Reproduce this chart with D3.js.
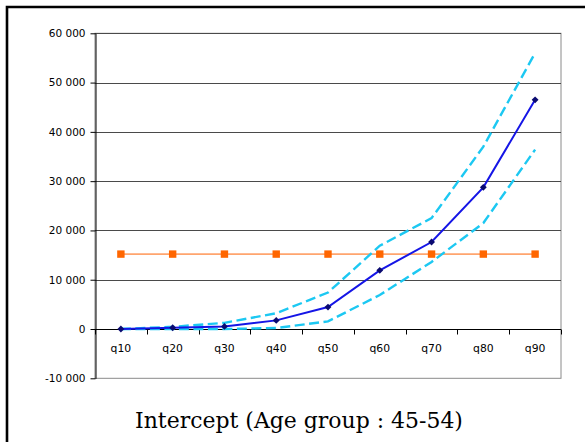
<!DOCTYPE html>
<html>
<head>
<meta charset="utf-8">
<script src="https://cdn.jsdelivr.net/npm/d3@7"></script>
<style>
  html, body { margin: 0; padding: 0; background: #fff; }
  svg { display: block; }
</style>
</head>
<body>
<svg id="chart" width="585" height="442"></svg>
<script>
// Quantile categories and the estimated intercept per quantile, with its band
const categories = ["q10", "q20", "q30", "q40", "q50", "q60", "q70", "q80", "q90"];
const estimate   = [0, 250, 530, 1750, 4450, 11900, 17650, 28750, 46500];
const upperBound = [0, 450, 1250, 3200, 7400, 16900, 22500, 37000, 56000];
const lowerBound = [0, 0, 0, 200, 1550, 6900, 13600, 21500, 36400];
const reference  = [15200, 15200, 15200, 15200, 15200, 15200, 15200, 15200, 15200];
const yTicks     = [-10000, 0, 10000, 20000, 30000, 40000, 50000, 60000];
const titleText  = "Intercept (Age group : 45-54)";

const svg = d3.select("#chart");
const plot = { left: 95, right: 561, top: 33.3, bottom: 378.3 };
const axisFont = "'DejaVu Sans', 'Liberation Sans', sans-serif";

// Outer frame (left and top edges visible)
svg.append("path")
  .attr("d", "M7,460 V7 H600")
  .attr("fill", "none")
  .attr("stroke", "#000")
  .attr("stroke-width", 2.6);

const x = d3.scaleBand().domain(categories).range([plot.left, plot.right]);
const y = d3.scaleLinear().domain([-10000, 60000]).range([plot.bottom, plot.top]);
const cx = d => x(d) + x.bandwidth() / 2;

// Space as thousands separator, plain hyphen for negatives
const fmt = v => d3.format(",")(v).replace(/,/g, " ").replace("\u2212", "-");

// Plot area border
svg.append("rect")
  .attr("x", plot.left).attr("y", plot.top)
  .attr("width", plot.right - plot.left).attr("height", plot.bottom - plot.top)
  .attr("fill", "none").attr("stroke", "#8a8a8a").attr("stroke-width", 1);

// Horizontal gridlines
svg.append("g").selectAll("line")
  .data(yTicks.filter(v => v !== -10000 && v !== 0))
  .join("line")
  .attr("x1", plot.left).attr("x2", plot.right)
  .attr("y1", d => Math.round(y(d)) + 0.5).attr("y2", d => Math.round(y(d)) + 0.5)
  .attr("stroke", "#4a4a4a").attr("stroke-width", 1);

// Y axis
const yAxis = svg.append("g")
  .attr("transform", `translate(${plot.left + 0.5},0)`)
  .call(d3.axisLeft(y).tickValues(yTicks).tickFormat(fmt).tickSize(5).tickSizeOuter(0));
yAxis.select(".domain").attr("stroke", "#000");
yAxis.selectAll(".tick line").attr("stroke", "#000");
yAxis.selectAll("text")
  .attr("font-family", axisFont)
  .attr("font-size", "10.5px").attr("fill", "#000").attr("x", -10);

// X axis at zero, ticks on category boundaries
const xAxisG = svg.append("g").attr("transform", `translate(0,${Math.round(y(0)) + 0.5})`);
xAxisG.append("line")
  .attr("x1", plot.left).attr("x2", plot.right)
  .attr("stroke", "#000");
const bounds = categories.map(c => x(c)).concat([x(categories[categories.length - 1]) + x.bandwidth()]);
xAxisG.selectAll("line.tk").data(bounds).join("line")
  .attr("class", "tk")
  .attr("x1", d => Math.round(d) + 0.5).attr("x2", d => Math.round(d) + 0.5)
  .attr("y1", 0).attr("y2", 5)
  .attr("stroke", "#000");
xAxisG.selectAll("text").data(categories).join("text")
  .attr("x", d => cx(d)).attr("y", 22)
  .attr("text-anchor", "middle")
  .attr("font-family", axisFont)
  .attr("font-size", "10.8px").attr("fill", "#000")
  .text(d => d);

const line = d3.line().x((d, i) => cx(categories[i])).y(d => y(d));

// Reference level (orange, square markers)
svg.append("path").datum(reference)
  .attr("d", line).attr("fill", "none")
  .attr("stroke", "#FFA56E").attr("stroke-width", 1.8);
svg.append("g").selectAll("rect").data(reference).join("rect")
  .attr("x", (d, i) => cx(categories[i]) - 3.7).attr("y", d => y(d) - 3.7)
  .attr("width", 7.4).attr("height", 7.4)
  .attr("fill", "#FF6600");

// Confidence band (dashed cyan)
[upperBound, lowerBound].forEach(series => {
  svg.append("path").datum(series)
    .attr("d", line).attr("fill", "none")
    .attr("stroke", "#1CC8F2").attr("stroke-width", 2.4)
    .attr("stroke-dasharray", "10,4.5");
});

// Estimate (blue line, navy diamonds)
svg.append("path").datum(estimate)
  .attr("d", line).attr("fill", "none")
  .attr("stroke", "#1515E6").attr("stroke-width", 2);
svg.append("g").selectAll("path").data(estimate).join("path")
  .attr("transform", (d, i) => `translate(${cx(categories[i])},${y(d)})`)
  .attr("d", d3.symbol(d3.symbolDiamond2, 30))
  .attr("fill", "#0A0A70");

// Title, sized to span its slot below the plot
const title = svg.append("text")
  .attr("x", 299).attr("y", 428)
  .attr("text-anchor", "middle")
  .attr("font-family", "'DejaVu Serif', 'Liberation Serif', serif")
  .attr("font-size", "19px").attr("fill", "#000")
  .text(titleText);
const tw = title.node().getComputedTextLength();
title.attr("font-size", (19 * 328 / tw).toFixed(2) + "px");
</script>
</body>
</html>
